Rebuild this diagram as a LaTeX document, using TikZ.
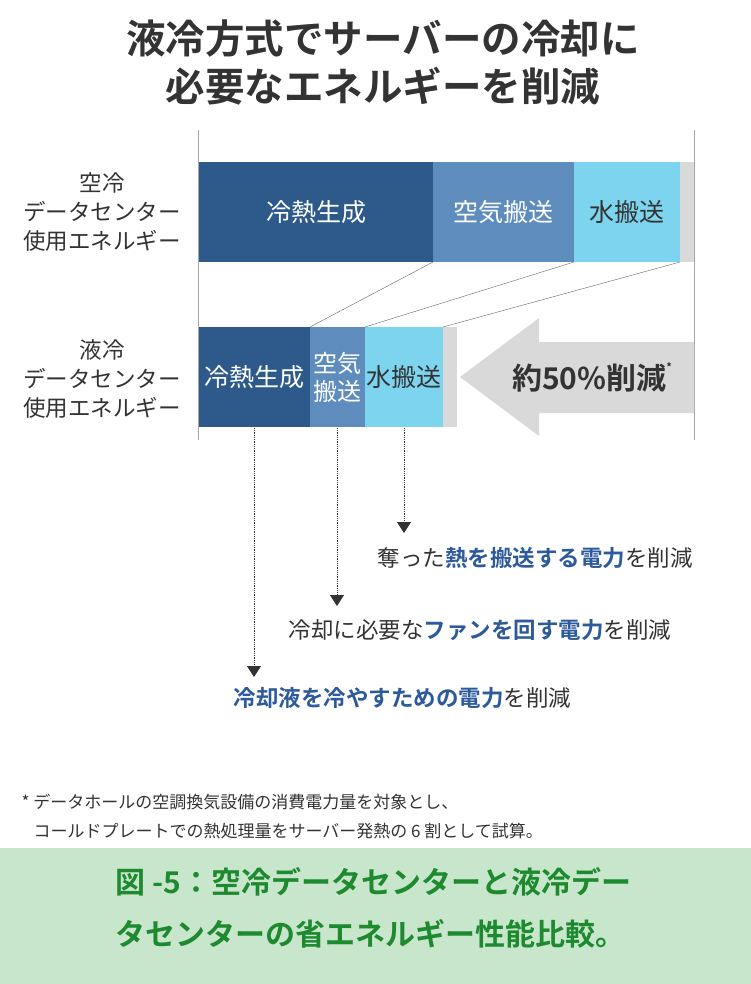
\documentclass[tikz,border=0pt]{standalone}
\usepackage{fontspec}
\setmainfont{Noto Sans CJK JP}
\newfontface\jpbold{Noto Sans CJK JP Bold}
\usetikzlibrary{arrows.meta}
\definecolor{dk}{HTML}{2D5A8A}
\definecolor{md}{HTML}{5E8CBD}
\definecolor{lt}{HTML}{7DD4EF}
\definecolor{gr}{HTML}{D9D9D9}
\definecolor{tx}{HTML}{333333}
\definecolor{bl}{HTML}{2D5A9A}
\definecolor{gband}{HTML}{C8E6CB}
\definecolor{gtext}{HTML}{1E8A30}
\begin{document}
\begin{tikzpicture}[x=1pt,y=-1pt,
  lab/.style={font=\fontsize{25}{30}\selectfont,text=white},
  side/.style={font=\fontsize{22.5}{29}\selectfont,text=tx,align=center},
  dotarr/.style={densely dotted,thick,tx,-{Triangle[length=11pt,width=14pt]}},
  note/.style={font=\fontsize{22.5}{26}\selectfont,text=tx,anchor=west}]
\useasboundingbox (0,0) rectangle (751,984);
\node[font=\jpbold\fontsize{39.5}{48}\selectfont,text=tx,align=center] (title) at (383,62) {液冷方式でサーバーの冷却に\\必要なエネルギーを削減};
% axes
\draw[gray!70,thin] (198,130) coordinate (la) -- (198,440) coordinate (lb);
\draw[gray!70,thin] (694,130) coordinate (ra) -- (694,440) coordinate (rb);
% top bar
\fill[dk] (199,162) rectangle (433,262);
\fill[md] (433,162) rectangle (574,262);
\fill[lt] (574,162) rectangle (680,262);
\fill[gr] (680,162) rectangle (694,262);
\node[lab] (t1) at (316,212) {冷熱生成};
\node[lab] (t2) at (503,212) {空気搬送};
\node[lab,text=tx] (t3) at (627,212) {水搬送};
% bottom bar
\fill[dk] (199,327) rectangle (310,427);
\fill[md] (310,327) rectangle (365,427);
\fill[lt] (365,327) rectangle (443,427);
\fill[gr] (443,327) rectangle (457,427);
\node[lab] (b1) at (254.5,377) {冷熱生成};
\node[lab,align=center,font=\fontsize{24}{28}\selectfont] (b2) at (337.5,377) {空気\\搬送};
\node[lab,text=tx] (b3) at (404,377) {水搬送};
% connectors
\draw[gray!80!black,thin] (433,262) coordinate (c1) -- (310,327) coordinate (d1);
\draw[gray!80!black,thin] (574,262) coordinate (c2) -- (365,327) coordinate (d2);
\draw[gray!80!black,thin] (680,262) coordinate (c3) -- (443,327) coordinate (d3);
% big arrow
\fill[gr] (460,377) -- (539,318) -- (539,342) -- (694,342) -- (694,413) -- (539,413) -- (539,436) -- cycle;
\node[font=\jpbold\fontsize{30}{32}\selectfont,text=tx] (red) at (592,377) {約50\%削減\raisebox{1.1ex}{\fontsize{11}{11}\selectfont *}};
% side labels
\node[side] (s1) at (102,212) {空冷\\データセンター\\使用エネルギー};
\node[side] (s2) at (102,379) {液冷\\データセンター\\使用エネルギー};
% dotted arrows
\coordinate (e3) at (404,533);
\coordinate (e2) at (337,606);
\coordinate (e1) at (254,677);
\draw[dotarr] (404,428) -- (e3);
\draw[dotarr] (337,428) -- (e2);
\draw[dotarr] (254,428) -- (e1);
\node[note] (n3) at (374,558) {奪った{\jpbold\color{bl}熱を搬送する電力}を削減};
\node[note] (n2) at (285,630) {冷却に必要な{\jpbold\color{bl}ファンを回す電力}を削減};
\node[note] (n1) at (230,698) {{\jpbold\color{bl}冷却液を冷やすための電力}を削減};
% footnote
\node[font=\fontsize{17}{29}\selectfont,text=tx,anchor=north west,align=left] (fn) at (18,790) {* データホールの空調換気設備の消費電力量を対象とし、\\\hspace*{12pt}コールドプレートでの熱処理量をサーバー発熱の 6 割として試算。};
% green band
\fill[gband] (0,848) rectangle (751,984);
\node[font=\jpbold\fontsize{30}{52}\selectfont,text=gtext,anchor=north west,align=left] (cap) at (112,864) {図 -5：空冷データセンターと液冷デー\\タセンターの省エネルギー性能比較。};
\end{tikzpicture}
\end{document}
